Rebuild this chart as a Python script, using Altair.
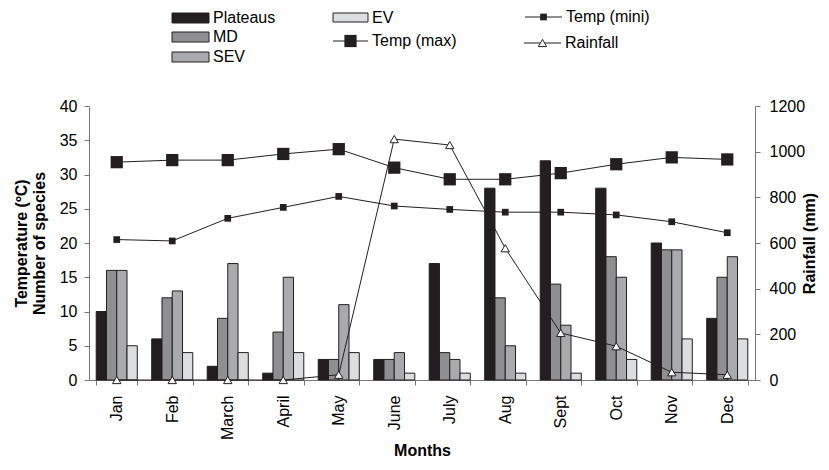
import altair as alt
import pandas as pd

months = ["Jan", "Feb", "March", "April", "May", "June", "July", "Aug", "Sept", "Oct", "Nov", "Dec"]
plateaus = [10, 6, 2, 1, 3, 3, 17, 28, 32, 28, 20, 9]
md = [16, 12, 9, 7, 3, 3, 4, 12, 14, 18, 19, 15]
sev = [16, 13, 17, 15, 11, 4, 3, 5, 8, 15, 19, 18]
ev = [5, 4, 4, 4, 4, 1, 1, 1, 1, 3, 6, 6]
temp_max = [31.8, 32.1, 32.1, 33.0, 33.7, 31.0, 29.3, 29.3, 30.2, 31.5, 32.5, 32.2]
temp_min = [20.5, 20.3, 23.6, 25.2, 26.8, 25.4, 24.9, 24.5, 24.5, 24.1, 23.1, 21.5]
rainfall = [0, 0, 0, 0, 23, 1055, 1029, 577, 206, 148, 34, 23]

series = ["Plateaus", "MD", "SEV", "EV"]
bar_colors = ["#231f20", "#8f8f91", "#a9aaad", "#dcddde"]
INK = "#231f20"
FONT = "Liberation Sans"
FS = 16

rows = []
for name, vals in zip(series, [plateaus, md, sev, ev]):
    for m, v in zip(months, vals):
        rows.append({"month": m, "series": name, "value": v})
bar_df = pd.DataFrame(rows)
line_df = pd.DataFrame({"month": months, "tmax": temp_max, "tmin": temp_min, "rain": rainfall})

xscale = alt.Scale(domain=months, paddingInner=0.26, paddingOuter=0.13)
xaxis = alt.Axis(title="Months", labelAngle=270, tickBand="extent", labelPadding=10,
                 tickSize=5, domainColor="#777", tickColor="#777", labelFontSize=FS,
                 titleFontSize=FS, titleFontWeight="bold", titlePadding=3, labelColor="black")
left_scale = alt.Scale(domain=[0, 40], nice=False, zero=True)
right_scale = alt.Scale(domain=[0, 1200], nice=False, zero=True)

bars = alt.Chart(bar_df).mark_bar(stroke=INK, strokeWidth=1).encode(
    x=alt.X("month:N", sort=months, scale=xscale, axis=xaxis),
    xOffset=alt.XOffset("series:N", sort=series, scale=alt.Scale(domain=series)),
    y=alt.Y("value:Q", scale=left_scale,
            axis=alt.Axis(title=["Temperature (ºC)", "Number of species"], values=list(range(0, 45, 5)),
                          grid=False, orient="left", tickSize=5, labelPadding=7, domainColor="#777",
                          tickColor="#777", labelFontSize=FS, titleFontSize=FS, titleFontWeight="bold",
                          titlePadding=12, labelColor="black")),
    fill=alt.Fill("series:N", scale=alt.Scale(domain=series, range=bar_colors), legend=None),
)

base = alt.Chart(line_df)
x_enc = alt.X("month:N", sort=months, scale=xscale, axis=xaxis)

tmax_line = base.mark_line(color=INK, strokeWidth=1).encode(
    x=x_enc, y=alt.Y("tmax:Q", scale=left_scale, axis=None))
tmax_pts = base.mark_point(shape="square", filled=True, size=150, color=INK, opacity=1).encode(
    x=x_enc, y=alt.Y("tmax:Q", scale=left_scale, axis=None))
tmin_line = base.mark_line(color=INK, strokeWidth=1).encode(
    x=x_enc, y=alt.Y("tmin:Q", scale=left_scale, axis=None))
tmin_pts = base.mark_point(shape="square", filled=True, size=45, color=INK, opacity=1).encode(
    x=x_enc, y=alt.Y("tmin:Q", scale=left_scale, axis=None))
rain_line = base.mark_line(color=INK, strokeWidth=1).encode(
    x=x_enc,
    y=alt.Y("rain:Q", scale=right_scale,
            axis=alt.Axis(title="Rainfall (mm)", orient="right", values=list(range(0, 1400, 200)),
                          format="d", grid=False, tickSize=5, labelPadding=9, domainColor="#777",
                          tickColor="#777", labelFontSize=FS, titleFontSize=FS, titleFontWeight="bold",
                          titleAngle=270, titlePadding=13, labelColor="black")))
rain_pts = base.mark_point(shape="triangle-up", filled=True, size=70, fill="white", stroke=INK,
                           strokeWidth=1, opacity=1).encode(
    x=x_enc, y=alt.Y("rain:Q", scale=right_scale, axis=None))

# legend (decoration)
one = pd.DataFrame({"k": [0]})
leg = []
rect_items = [("Plateaus", bar_colors[0], 83, 120, -93, -83, -88),
              ("MD", bar_colors[1], 83, 120, -74, -64, -69),
              ("SEV", bar_colors[2], 83, 120, -54, -44, -49),
              ("EV", bar_colors[3], 244, 279, -93, -84, -88)]
for label, col, x1, x2, y1, y2, ty in rect_items:
    leg.append(alt.Chart(one).mark_rect(fill=col, stroke=INK, strokeWidth=1).encode(
        x=alt.value(x1), x2=alt.value(x2), y=alt.value(y1), y2=alt.value(y2)))
    leg.append(alt.Chart(one).mark_text(text=label, align="left", baseline="middle", fontSize=FS,
                                        font=FONT, color="black").encode(
        x=alt.value(x2 + 4), y=alt.value(ty)))
line_items = [("Temp (max)", "square", 150, INK, 244, 279, -65),
              ("Temp (mini)", "square", 45, INK, 436, 473, -89),
              ("Rainfall", "triangle-up", 70, "white", 435, 472, -63)]
for label, shape, size, fill, x1, x2, y in line_items:
    leg.append(alt.Chart(one).mark_rule(color=INK, strokeWidth=1).encode(
        x=alt.value(x1), x2=alt.value(x2), y=alt.value(y)))
    leg.append(alt.Chart(one).mark_point(shape=shape, filled=True, size=size, fill=fill, stroke=INK,
                                         strokeWidth=1 if fill == "white" else 0, opacity=1).encode(
        x=alt.value((x1 + x2) / 2), y=alt.value(y)))
    leg.append(alt.Chart(one).mark_text(text=label, align="left", baseline="middle", fontSize=FS,
                                        font=FONT, color="black").encode(
        x=alt.value(x2 + 4), y=alt.value(y)))

chart = alt.layer(bars, tmax_line, tmax_pts, tmin_line, tmin_pts, rain_line, rain_pts, *leg).resolve_scale(
    y="independent"
).properties(
    width=666, height=274,
    autosize=alt.AutoSizeParams(type="none"),
    padding={"left": 81, "top": 98, "right": 66, "bottom": 82},
).configure(font=FONT).configure_view(stroke=None)

chart.save("out.html", embed_options={"renderer": "svg", "actions": False})
